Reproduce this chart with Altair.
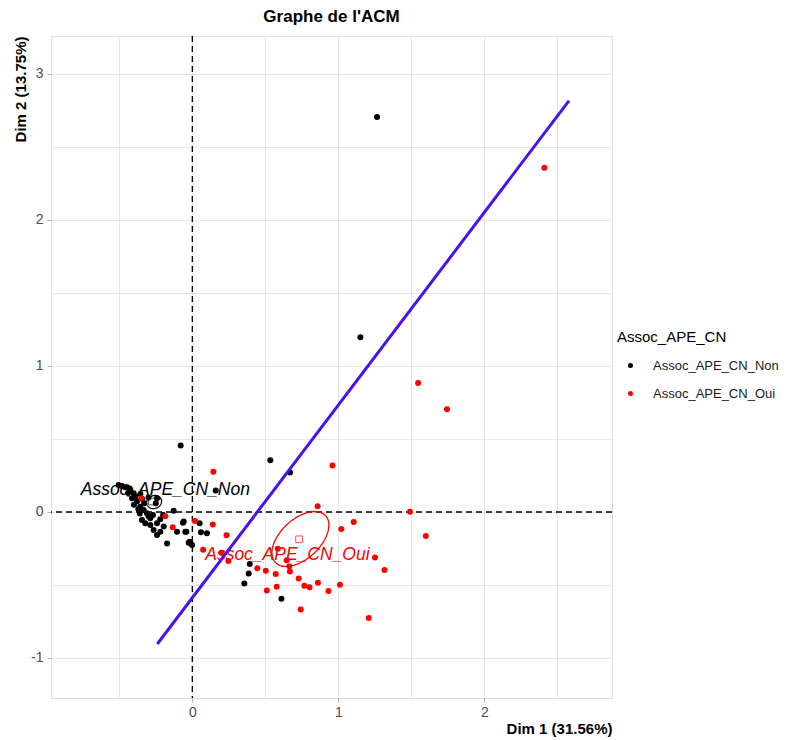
import altair as alt
import pandas as pd
import numpy as np

# ---- data ----
group_labels = ["Assoc_APE_CN_Non", "Assoc_APE_CN_Oui"]
group_colors = ["#000000", "#FF0000"]

non_x = [1.265, 1.151, -0.080, 0.534, 0.669, 0.160, 0.393, 0.386, 0.356, 0.610,
         -0.064, 0.050, -0.041, 0.059, 0.100, -0.018, -0.002, -0.128, -0.105, -0.173, -0.196,
         -0.505, -0.482, -0.460, -0.447, -0.430, -0.425, -0.440, -0.402, -0.413, -0.379,
         -0.356, -0.390, -0.345, -0.330, -0.242, -0.250, -0.300, -0.356, -0.333, -0.311,
         -0.288, -0.345, -0.322, -0.288, -0.265, -0.219, -0.242, -0.242, -0.300, -0.270,
         -0.360, -0.400, -0.370, -0.220, -0.200, -0.059, -0.025, -0.048]
non_y = [2.706, 1.197, 0.456, 0.354, 0.271, 0.147, -0.356, -0.422, -0.489, -0.594,
         -0.073, -0.078, -0.135, -0.139, -0.146, -0.203, -0.226, 0.009, -0.135, -0.215, -0.100,
         0.185, 0.178, 0.170, 0.169, 0.160, 0.150, 0.130, 0.128, 0.094, 0.071,
         0.123, 0.105, 0.090, 0.060, 0.094, 0.060, 0.100, 0.036, 0.014, -0.009,
         -0.043, -0.055, -0.078, -0.089, -0.123, -0.135, -0.078, -0.158, -0.030, -0.020,
         -0.010, 0.050, 0.020, -0.050, -0.020, -0.066, -0.210, -0.135]

oui_x = [2.411, 1.546, 1.744, 0.960, 0.144, 0.858, 1.490, 1.599, 1.105, 1.020,
         0.018, 0.140, 0.234, 0.074, 0.200, 0.247, -0.349, -0.185, -0.134, 0.585,
         0.646, 0.664, 0.668, 0.445, 0.503, 0.571, 0.728, 0.767, 0.802, 0.860,
         0.932, 1.011, 0.510, 0.578, 0.742, 1.208, 1.251, 1.316]
oui_y = [2.357, 0.884, 0.704, 0.318, 0.275, 0.040, 0.001, -0.165, -0.069, -0.117,
         -0.062, -0.085, -0.160, -0.258, -0.280, -0.336, 0.094, -0.030, -0.105, -0.252,
         -0.331, -0.372, -0.408, -0.386, -0.403, -0.424, -0.456, -0.506, -0.515, -0.484,
         -0.541, -0.499, -0.538, -0.512, -0.668, -0.726, -0.311, -0.397]

mean_x = [-0.276, 0.731]
mean_y = [0.071, -0.187]
label_x = [-0.185, 0.651]
label_y = [0.151, -0.295]

# confidence ellipses: centre, semi-axes, rotation
ell_cx = [-0.262, 0.740]
ell_cy = [0.068, -0.185]
ell_a = [0.052, 0.235]
ell_b = [0.044, 0.135]
ell_angle = [20.0, 43.0]

# fitted line end points
line_x = [-0.240, 2.580]
line_y = [-0.904, 2.818]

x_domain = [-0.968, 2.874]
y_domain = [-1.274, 3.260]
x_grid = [-0.5, 0, 0.5, 1, 1.5, 2, 2.5]
y_grid = [-1, -0.5, 0, 0.5, 1, 1.5, 2, 2.5, 3]

FONT = "Liberation Sans"

# ---- tables ----
pts = pd.DataFrame({
    "x": non_x + oui_x,
    "y": non_y + oui_y,
    "g": [group_labels[0]] * len(non_x) + [group_labels[1]] * len(oui_x),
})
means = pd.DataFrame({"x": mean_x, "y": mean_y, "g": group_labels})
labels = pd.DataFrame({"x": label_x, "y": label_y, "g": group_labels})
t = np.linspace(0, 2 * np.pi, 121)
ell_rows = []
for i, g in enumerate(group_labels):
    th = np.deg2rad(ell_angle[i])
    ex = ell_cx[i] + ell_a[i] * np.cos(t) * np.cos(th) - ell_b[i] * np.sin(t) * np.sin(th)
    ey = ell_cy[i] + ell_a[i] * np.cos(t) * np.sin(th) + ell_b[i] * np.sin(t) * np.cos(th)
    for k in range(len(t)):
        ell_rows.append({"x": ex[k], "y": ey[k], "g": g, "o": k})
ells = pd.DataFrame(ell_rows)
line_df = pd.DataFrame({"x": line_x, "y": line_y})
zero_df = pd.DataFrame({"v": [0]})

int_test = "abs(datum.value - round(datum.value)) < 1e-6"
label_expr = f"{int_test} ? ('' + round(datum.value)) : ''"
xscale = alt.Scale(domain=x_domain, nice=False, zero=False)
yscale = alt.Scale(domain=y_domain, nice=False, zero=False)
color_scale = alt.Scale(domain=group_labels, range=group_colors)

xaxis = alt.Axis(values=x_grid, labelExpr=label_expr,
                 title="Dim 1 (31.56%)", titleAnchor="end", titleFontWeight="bold",
                 titleFontSize=15, titleColor="#000000", labelFontSize=14, labelColor="#4D4D4D",
                 tickColor={"condition": {"test": int_test, "value": "#B3B3B3"}, "value": "transparent"},
                 tickSize=4, gridColor="#E6E6E6", domain=False, labelPadding=3, titlePadding=2,
                 labelFont=FONT, titleFont=FONT)
yaxis = alt.Axis(values=y_grid, labelExpr=label_expr,
                 title="Dim 2 (13.75%)", titleAnchor="end", titleFontWeight="bold",
                 titleFontSize=15, titleColor="#000000", labelFontSize=14, labelColor="#4D4D4D",
                 tickColor={"condition": {"test": int_test, "value": "#B3B3B3"}, "value": "transparent"},
                 tickSize=4, gridColor="#E6E6E6", domain=False, labelPadding=4, titlePadding=2,
                 labelFont=FONT, titleFont=FONT)

vline = alt.Chart(zero_df).mark_rule(color="#000000", strokeDash=[6, 4], strokeWidth=1.4).encode(
    x=alt.X("v:Q", scale=xscale, axis=xaxis))
hline = alt.Chart(zero_df).mark_rule(color="#000000", strokeDash=[6, 4], strokeWidth=1.4).encode(
    y=alt.Y("v:Q", scale=yscale, axis=yaxis))

points = alt.Chart(pts).mark_circle(size=36, opacity=1).encode(
    x=alt.X("x:Q", scale=xscale, axis=xaxis),
    y=alt.Y("y:Q", scale=yscale, axis=yaxis),
    color=alt.Color("g:N", scale=color_scale,
                    legend=alt.Legend(title="Assoc_APE_CN", orient="none", legendX=566, legendY=294,
                                      titleFontSize=15, titleFontWeight="normal", titleColor="#000000",
                                      titleFont=FONT, labelFont=FONT, labelFontSize=13,
                                      labelColor="#1A1A1A", symbolType="circle", symbolSize=25,
                                      symbolOffset=7, labelOffset=16, rowPadding=14,
                                      titlePadding=14, symbolStrokeWidth=0)),
)

ell_chart = alt.Chart(ells).mark_line(strokeWidth=1.3).encode(
    x=alt.X("x:Q", scale=xscale), y=alt.Y("y:Q", scale=yscale),
    detail="g:N", order="o:Q",
    color=alt.Color("g:N", scale=color_scale, legend=None))

mean_chart = alt.Chart(means).mark_point(shape="square", filled=False, size=45, strokeWidth=1).encode(
    x=alt.X("x:Q", scale=xscale), y=alt.Y("y:Q", scale=yscale),
    color=alt.Color("g:N", scale=color_scale, legend=None))

text_chart = alt.Chart(labels).mark_text(fontSize=17.5, fontStyle="italic", font=FONT,
                                         baseline="middle", align="center").encode(
    x=alt.X("x:Q", scale=xscale), y=alt.Y("y:Q", scale=yscale), text="g:N",
    color=alt.Color("g:N", scale=color_scale, legend=None))

blue = alt.Chart(line_df).mark_line(color="#4B10EE", strokeWidth=3).encode(
    x=alt.X("x:Q", scale=xscale), y=alt.Y("y:Q", scale=yscale))

chart = alt.layer(vline, hline, points, ell_chart, mean_chart, text_chart, blue).properties(
    width=561, height=662,
    title=alt.TitleParams("Graphe de l'ACM", fontSize=17, fontWeight="bold", font=FONT,
                          anchor="middle", color="#000000", offset=9),
    autosize=alt.AutoSizeParams(type="none"),
    padding={"left": 43, "top": 28, "right": 172, "bottom": 40},
).configure_view(stroke="#B3B3B3", strokeWidth=1).configure(background="white")

chart.save("out.html", embed_options={"renderer": "svg", "actions": False})
